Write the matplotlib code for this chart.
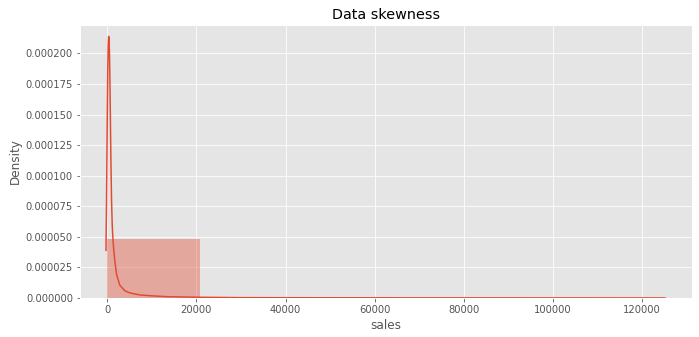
import matplotlib
matplotlib.use("Agg")
import matplotlib.pyplot as plt
from matplotlib.ticker import FormatStrFormatter, MultipleLocator

plt.style.use("ggplot")

# Histogram (density)
bin_edges = [0, 20817, 41634, 62451, 83268, 104085, 124902]
bin_heights = [0.0000482, 0.00000004, 0.00000001, 0.00000001, 0.0, 0.00000001]

# KDE curve points
kde_x = [-300, -200, -100, 0, 100, 200, 300, 400, 500, 600, 700, 800, 950, 1100,
         1250, 1450, 1700, 2100, 2800, 3900, 5000, 7300, 10300, 13300, 20700,
         30000, 45000, 60000, 80000, 100000, 125200]
kde_y = [3.9e-5, 7.0e-5, 1.10e-4, 1.50e-4, 1.85e-4, 2.07e-4, 2.14e-4, 2.12e-4,
         1.98e-4, 1.75e-4, 1.45e-4, 1.15e-4, 8.0e-5, 6.0e-5, 4.9e-5, 3.9e-5,
         3.0e-5, 1.9e-5, 1.05e-5, 6.0e-6, 4.2e-6, 2.5e-6, 1.7e-6, 1.1e-6, 6e-7,
         3e-7, 2e-7, 1.5e-7, 1e-7, 8e-8, 5e-8]

color = "#E24A33"

fig = plt.figure(figsize=(699 / 72, 337 / 72), dpi=72)
ax = fig.add_axes([80 / 699, (337 - 298) / 337, (691.7 - 80) / 699, (298 - 25) / 337])

widths = [bin_edges[i + 1] - bin_edges[i] for i in range(len(bin_heights))]
ax.bar(bin_edges[:-1], bin_heights, width=widths, align="edge",
       color=color, alpha=0.4, linewidth=0)
ax.plot(kde_x, kde_y, color=color, linewidth=1.5)

ax.set_xlim(-6130, 131180)
ax.set_ylim(0, 0.0002233)
ax.xaxis.set_major_locator(MultipleLocator(20000))
ax.yaxis.set_major_locator(MultipleLocator(0.000025))
ax.yaxis.set_major_formatter(FormatStrFormatter("%.6f"))

ax.set_title("Data skewness")
ax.set_xlabel("sales")
ax.set_ylabel("Density")

fig.savefig("out.png", dpi=72)
